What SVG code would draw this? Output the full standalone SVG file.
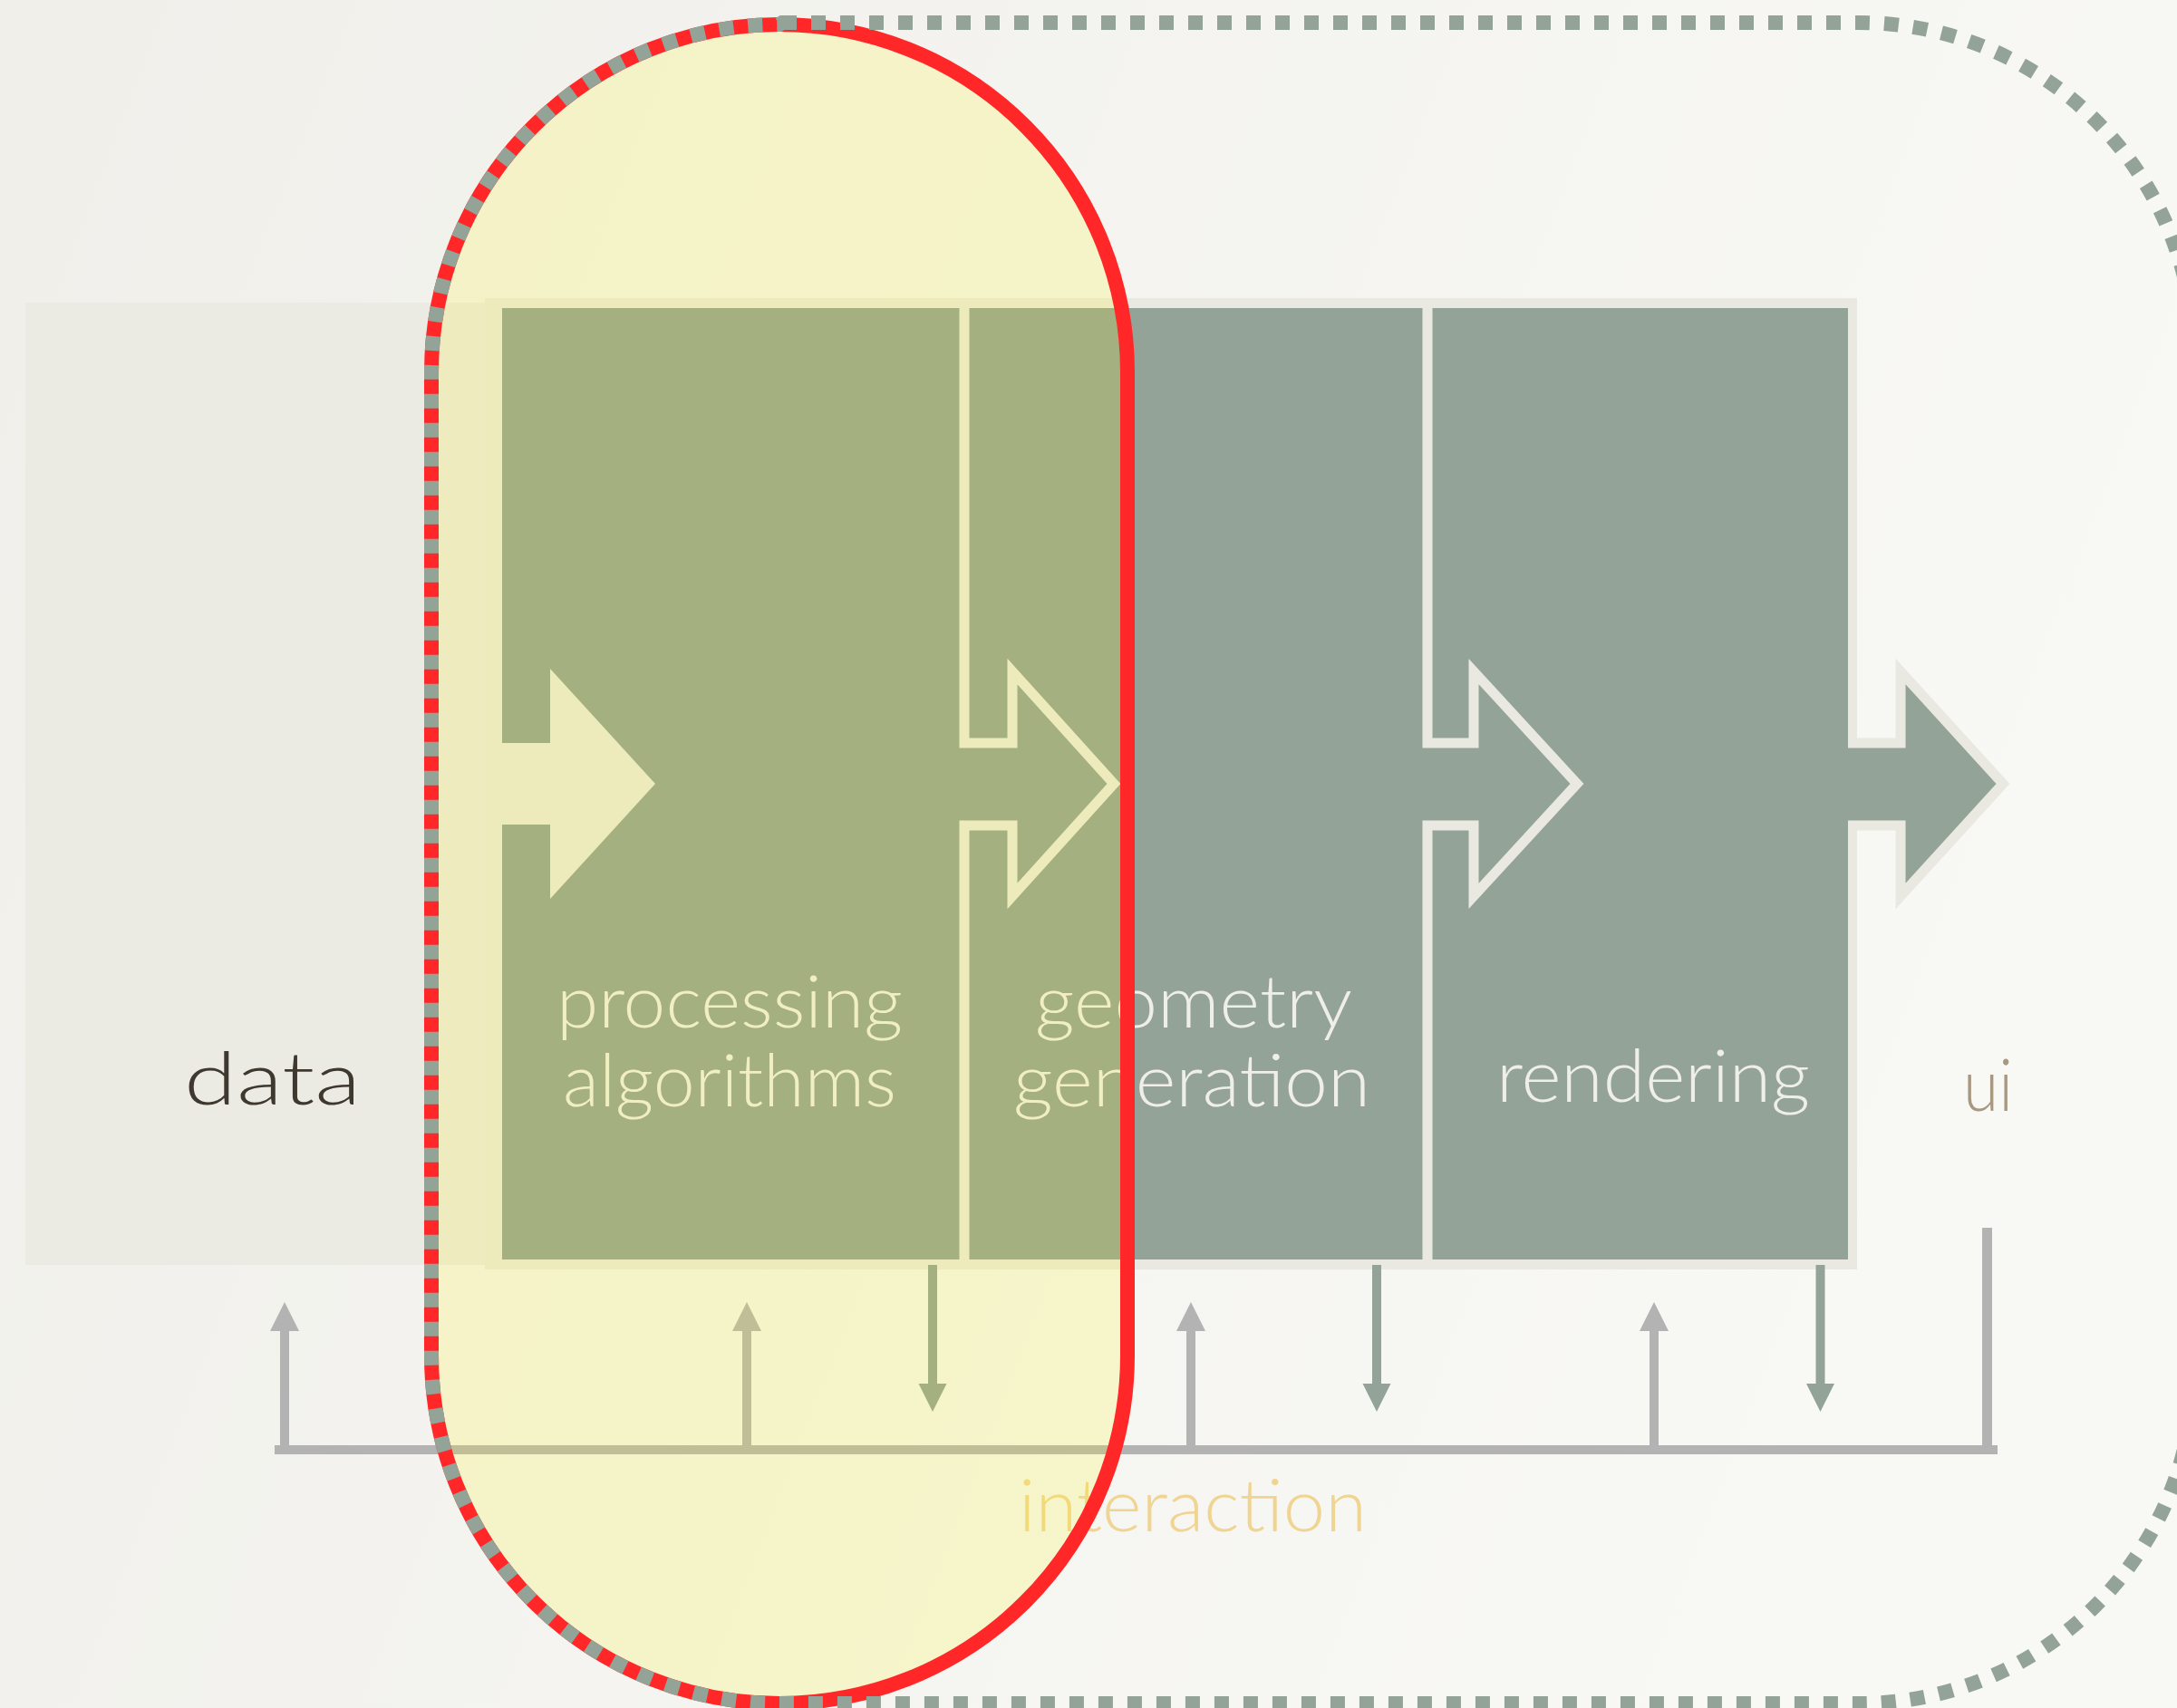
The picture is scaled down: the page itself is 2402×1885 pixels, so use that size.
<svg xmlns="http://www.w3.org/2000/svg" width="2402" height="1885" viewBox="0 0 2402 1885">
  <defs>
    <linearGradient id="bgGrad" x1="0" y1="0" x2="1" y2="0.3">
      <stop offset="0" stop-color="#f0efea"/>
      <stop offset="1" stop-color="#f8f8f5"/>
    </linearGradient>
    <style>
      .lbl { font-family: Lato, "DejaVu Sans", "Liberation Sans", sans-serif; font-weight: 300; font-size: 80px; }
      .boxtxt { fill: #efeee7; }
      .box { fill: #93a398; }
      .frame { fill: #eae9e1; }
      .sep { fill: none; stroke: #eae9e1; stroke-width: 11; stroke-linejoin: miter; stroke-miterlimit: 6; }
      .up { fill: #b3b3b3; }
      .upline { stroke: #b3b3b3; stroke-width: 10; fill: none; }
      .down { fill: #93a398; }
      .downline { stroke: #93a398; stroke-width: 10; fill: none; }
    </style>
  </defs>

  <rect x="0" y="0" width="2402" height="1885" fill="url(#bgGrad)"/>

  <g id="node-data">
    <rect x="28" y="334" width="520" height="1062" fill="#ebeae3"/>
    <text class="lbl" x="203" y="1219" fill="#3f382e" textLength="195" lengthAdjust="spacingAndGlyphs">data</text>
  </g>

  <g id="pipeline-frame">
    <rect class="frame" x="535" y="329" width="1514" height="1072"/>
  </g>

  <g id="node-processing">
    <rect class="box" x="554" y="340" width="512" height="1050"/>
    <text class="lbl boxtxt" x="614" y="1134" textLength="382" lengthAdjust="spacingAndGlyphs">processing</text>
    <text class="lbl boxtxt" x="621" y="1221" textLength="368" lengthAdjust="spacingAndGlyphs">algorithms</text>
  </g>

  <g id="node-geometry">
    <rect class="box" x="1062" y="340" width="515" height="1050"/>
    <text class="lbl boxtxt" x="1142" y="1134" textLength="350" lengthAdjust="spacingAndGlyphs">geometry</text>
    <text class="lbl boxtxt" x="1118" y="1221" textLength="394" lengthAdjust="spacingAndGlyphs">generation</text>
  </g>

  <g id="node-rendering">
    <rect class="box" x="1573" y="340" width="466" height="1050"/>
    <text class="lbl boxtxt" x="1651" y="1216" textLength="346" lengthAdjust="spacingAndGlyphs">rendering</text>
  </g>

  <g id="connectors">
    <!-- flow arrows -->
    <polygon class="frame" points="545,820 607,820 607,738 723,865 607,992 607,910 545,910"/>
    <path class="sep" d="M1064,334 V820 H1117 V741 L1229,865 L1117,989 V911 H1064 V1396"/>
    <path class="sep" d="M1575,334 V820 H1626 V741 L1740,865 L1626,989 V911 H1575 V1396"/>
    <path class="box" d="M2030,820 H2097 V741 L2210,865 L2097,989 V911 H2030 Z"/>
    <path class="sep" d="M2039,820 H2097 V741 L2210,865 L2097,989 V911 H2039"/>

    <!-- interaction bus -->
    <line class="upline" x1="303" y1="1600" x2="2204" y2="1600"/>
    <line x1="2192.5" y1="1355" x2="2192.5" y2="1605" stroke="#b3b3b3" stroke-width="11"/>

    <!-- up arrows -->
    <line class="upline" x1="314" y1="1600" x2="314" y2="1466"/>
    <polygon class="up" points="298,1469 314,1437 330,1469"/>
    <line class="upline" x1="824" y1="1600" x2="824" y2="1466"/>
    <polygon class="up" points="808,1469 824,1437 840,1469"/>
    <line class="upline" x1="1314" y1="1600" x2="1314" y2="1466"/>
    <polygon class="up" points="1298,1469 1314,1437 1330,1469"/>
    <line class="upline" x1="1825" y1="1600" x2="1825" y2="1466"/>
    <polygon class="up" points="1809,1469 1825,1437 1841,1469"/>

    <!-- down arrows -->
    <line class="downline" x1="1029" y1="1396" x2="1029" y2="1530"/>
    <polygon class="down" points="1013.5,1527 1029,1558 1044.5,1527"/>
    <line class="downline" x1="1519" y1="1396" x2="1519" y2="1530"/>
    <polygon class="down" points="1503.5,1527 1519,1558 1534.5,1527"/>
    <line class="downline" x1="2008.5" y1="1396" x2="2008.5" y2="1530"/>
    <polygon class="down" points="1993,1527 2008.5,1558 2024,1527"/>
  </g>

  <g id="node-ui">
    <text class="lbl" x="2166" y="1226" fill="#a89882" textLength="55" lengthAdjust="spacingAndGlyphs">ui</text>
  </g>

  <g id="node-interaction">
    <text class="lbl" x="1124" y="1690" fill="#f0d492" textLength="384" lengthAdjust="spacingAndGlyphs">interaction</text>
  </g>

  <g id="focus-pill">
    <rect x="476" y="27" width="768" height="1853" rx="384" ry="384" fill="#fffa00" fill-opacity="0.16"/>
    <rect x="476" y="27" width="768" height="1853" rx="384" ry="384" fill="none" stroke="#ff2727" stroke-width="16"/>
  </g>

  <g id="scope-outline">
    <path d="M863,25 H2051 A370,370 0 0 1 2421,395 V1510 A370,370 0 0 1 2051,1880 H860 A384,384 0 0 1 476,1496 V411 A384,384 0 0 1 860,27 Z" fill="none" stroke="#93a398" stroke-width="16" stroke-dasharray="16 16"/>
  </g>
</svg>
